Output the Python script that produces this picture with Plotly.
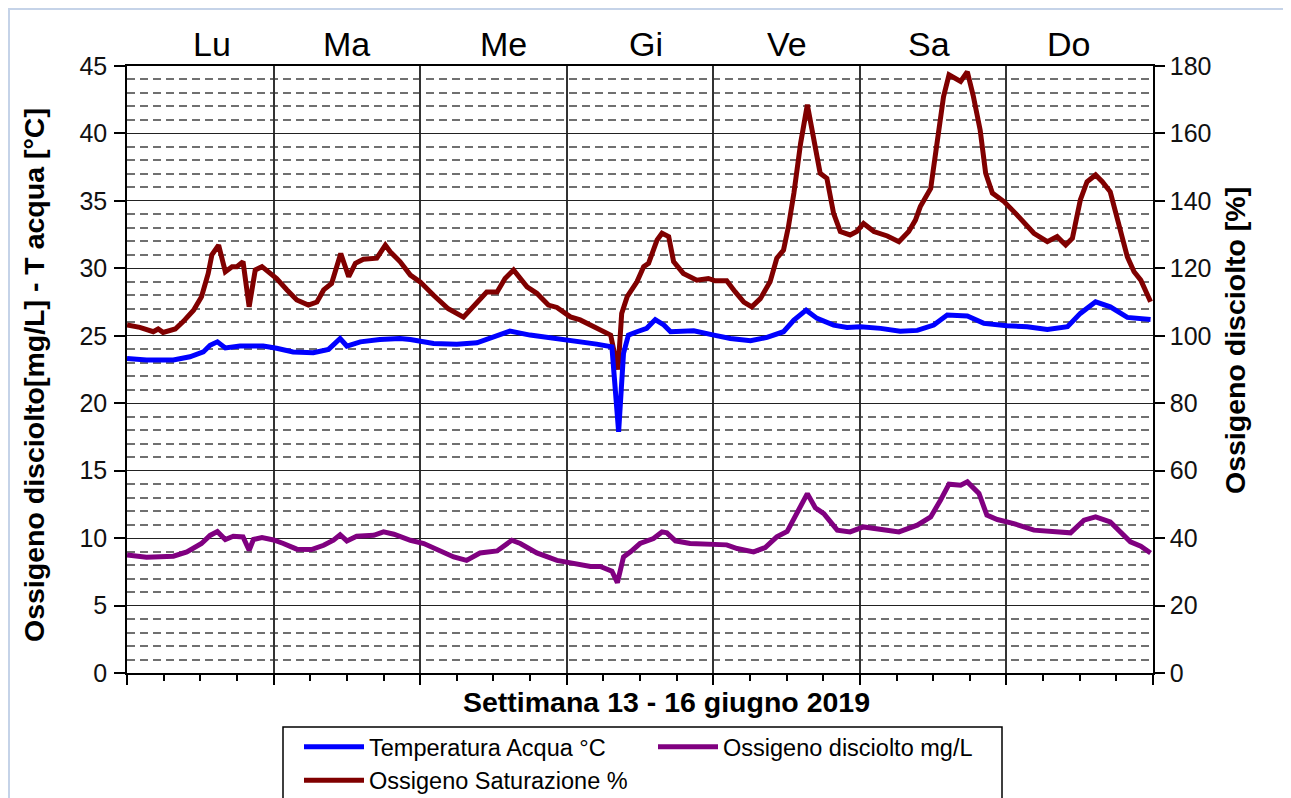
import plotly.graph_objects as go

# ---- data (hours since Monday 00:00, values) ----
day_labels = ["Lu", "Ma", "Me", "Gi", "Ve", "Sa", "Do"]
day_label_hours = [13.9, 36.0, 61.6, 84.9, 108.1, 131.4, 154.2]

temp_hours = [0, 3.2, 7.6, 10.3, 12.5, 13.6, 14.8, 16.1, 18.5, 22.3, 24.5, 27.2, 30.5, 33.0, 34.9, 36.0, 38.2, 41.4, 44.7, 46.4,
              50.2, 54.0, 57.3, 60.0, 62.7, 66.0, 70.4, 73.7, 76.9, 79.4, 80.5, 81.3, 82.1, 83.5, 85.1, 86.5, 87.9, 89.0, 92.8, 96.1,
              98.8, 102.1, 104.8, 107.5, 109.2, 111.2, 113.0, 115.7, 117.9, 120.1, 123.4, 126.6, 129.4, 132.1, 134.3, 137.6, 140.3,
              144.1, 147.4, 150.7, 154.0, 156.1, 158.6, 161.0, 163.8, 167.6]
temp_values = [23.32, 23.2, 23.2, 23.44, 23.8, 24.3, 24.55, 24.1, 24.24, 24.24, 24.07, 23.8, 23.74, 23.99, 24.8, 24.24, 24.55, 24.73, 24.8, 24.73,
               24.43, 24.38, 24.48, 24.88, 25.35, 25.05, 24.8, 24.55, 24.38, 24.18, 17.88, 23.7, 25.05, 25.3, 25.55, 26.2, 25.8, 25.3, 25.37, 25.05,
               24.8, 24.63, 24.88, 25.3, 26.16, 26.9, 26.29, 25.79, 25.62, 25.67, 25.55, 25.33, 25.4, 25.79, 26.54, 26.46, 25.92,
               25.74, 25.67, 25.47, 25.67, 26.66, 27.52, 27.15, 26.36, 26.21]

do_hours = [0, 3.2, 7.6, 9.8, 12.2, 13.6, 14.8, 16.1, 17.4, 19.0, 20.0, 20.7, 22.1, 24.0, 25.6, 27.8, 30.2, 32.2, 33.8, 34.9,
            36.0, 37.6, 40.4, 42.0, 43.7, 46.4, 48.6, 51.3, 53.5, 55.6, 57.8, 60.6, 63.0, 64.4, 67.1, 70.4, 73.7, 75.9, 77.5, 79.4,
            80.3, 81.3, 82.5, 84.0, 86.2, 87.6, 88.4, 89.8, 92.2, 95.0, 98.2, 99.9, 102.6, 104.5, 106.4, 108.1, 109.7, 111.4, 112.7, 114.1,
            116.3, 118.4, 120.6, 123.4, 126.4, 129.4, 131.6, 133.2, 134.6, 136.5, 137.6, 139.5, 140.8, 142.5, 145.2, 148.5, 151.8, 154.5,
            156.7, 158.6, 161.0, 162.7, 164.3, 166.0, 167.6]
do_values = [8.75, 8.58, 8.66, 8.98, 9.6, 10.2, 10.48, 9.9, 10.14, 10.09, 9.1, 9.9, 10.04, 9.86, 9.6, 9.18, 9.15, 9.47, 9.84, 10.25,
             9.79, 10.14, 10.21, 10.46, 10.29, 9.84, 9.6, 9.0, 8.6, 8.35, 8.9, 9.05, 9.84, 9.6, 8.9, 8.35, 8.05, 7.9, 7.9, 7.55,
             6.7, 8.6, 9.0, 9.6, 9.97, 10.46, 10.39, 9.8, 9.6, 9.55, 9.5, 9.23, 8.98, 9.3, 10.09, 10.5, 11.94, 13.3, 12.25, 11.82,
             10.59, 10.46, 10.83, 10.64, 10.46, 10.96, 11.57, 12.81, 14.0, 13.92, 14.17, 13.31, 11.7, 11.38, 11.08, 10.59, 10.53, 10.39,
             11.33, 11.57, 11.2, 10.46, 9.72, 9.4, 8.9]

sat_hours = [0, 2.1, 4.3, 5.1, 5.9, 7.9, 9.2, 10.9, 12.2, 13.3, 13.9, 15.0, 16.1, 17.2, 18.0, 19.0, 20.0, 21.0, 22.1, 23.1,
             24.5, 26.2, 27.8, 29.7, 31.1, 32.2, 33.5, 35.0, 36.3, 37.4, 38.7, 40.9, 42.3, 43.1, 44.7, 46.4, 48.0, 50.2, 52.6, 55.1,
             57.0, 58.9, 60.6, 61.9, 63.3, 64.4, 65.5, 67.1, 69.0, 70.4, 72.6, 74.2, 75.9, 77.8, 79.2, 79.6, 80.4, 81.0, 81.9, 83.5,
             84.6, 85.4, 86.8, 87.6, 88.7, 89.5, 91.1, 93.3, 95.2, 96.3, 98.2, 99.6, 101.0, 102.3, 103.7, 105.3, 106.4, 107.5, 108.3, 109.2,
             110.3, 111.4, 112.4, 113.5, 114.6, 115.7, 116.8, 118.4, 119.5, 120.6, 122.3, 124.5, 126.4, 128.0, 129.1, 129.9, 131.6, 132.7, 133.7, 134.6,
             136.5, 137.6, 138.6, 139.7, 140.6, 141.7, 143.6, 145.5, 146.8, 148.5, 150.7, 152.3, 153.7, 154.8, 156.1, 157.2, 158.6, 159.7, 161.0, 162.4,
             163.8, 164.9, 166.0, 167.6]
sat_values = [103.2, 102.5, 101.2, 102, 101, 102, 104.2, 107.6, 111.6, 118.5, 124, 126.9, 119, 120.5, 120.5, 122, 108.6, 119.5, 120.5, 119,
              117, 113.6, 110.6, 109.1, 110, 113.6, 115.5, 124.4, 117.5, 121.5, 122.7, 123, 126.9, 124.9, 122, 118, 116, 112, 108, 105.5,
              109.1, 113, 113, 117, 119.5, 117, 114.5, 112.6, 109.1, 108.4, 105.6, 104.7, 103.2, 101.7, 100.2, 96.7, 90, 106.6, 111.6, 116,
              120.5, 121.5, 128.4, 130.4, 129.4, 122, 118.5, 116.5, 117, 116.3, 116.3, 113, 110, 108.6, 111, 116, 123, 125.4, 132.3, 142.3,
              157.1, 168.5, 159, 148.2, 146.7, 136.3, 130.9, 129.9, 130.9, 133.3, 130.9, 129.6, 127.9, 130.9, 134.3, 138.3, 143.7, 157.1, 170.9, 177.4,
              175.4, 178.3, 170.9, 161, 148.2, 142.3, 139.8, 136.3, 133.8, 130.4, 127.9, 129.4, 126.9, 128.9, 140.3, 145.7, 147.7, 145.7, 142.7, 133.3,
              123.4, 119, 116.5, 110.1]

FONT = "Arial, Liberation Sans, sans-serif"

fig = go.Figure()
# base axis (y) = right axis in %, overlay (y2) = left axis
fig.add_trace(go.Scatter(x=sat_hours, y=sat_values, mode="lines", name="Ossigeno Saturazione %",
                         line=dict(color="#800000", width=5), yaxis="y", legendrank=3))
fig.add_trace(go.Scatter(x=temp_hours, y=temp_values, mode="lines", name="Temperatura Acqua °C",
                         line=dict(color="#0000FF", width=5), yaxis="y2", legendrank=1))
fig.add_trace(go.Scatter(x=do_hours, y=do_values, mode="lines", name="Ossigeno disciolto mg/L",
                         line=dict(color="#800080", width=5), yaxis="y2", legendrank=2))

# page body has an 8px margin: figure pixel = screen pixel - 8
OFF = 8
W, H = 1291 - OFF, 798 - OFF
ml, mr, mt, mb = 119, 138, 58, 125
pw, ph = W - ml - mr, H - mt - mb

def px_x(p):
    return (p - OFF - ml) / pw

def px_y(p):
    return (H - mb - (p - OFF)) / ph

TITLE_SIZE = 28.5
annotations = []
for lab, hx in zip(day_labels, day_label_hours):
    annotations.append(dict(x=hx, y=px_y(44), xref="x", yref="paper", text=lab, showarrow=False,
                            font=dict(family=FONT, size=34, color="black"), xanchor="center", yanchor="middle"))
annotations.append(dict(x=px_x(666), y=px_y(702), xref="paper", yref="paper",
                        text="<b>Settimana 13 - 16 giugno 2019</b>", showarrow=False,
                        font=dict(family=FONT, size=TITLE_SIZE, color="black"), xanchor="center", yanchor="middle"))
annotations.append(dict(x=px_x(34), y=px_y(375), xref="paper", yref="paper", textangle=-90,
                        text="<b>Ossigeno disciolto[mg/L] - T acqua [°C]</b>", showarrow=False,
                        font=dict(family=FONT, size=TITLE_SIZE, color="black"), xanchor="center", yanchor="middle"))
annotations.append(dict(x=px_x(1235), y=px_y(341), xref="paper", yref="paper", textangle=-90,
                        text="<b>Ossigeno disciolto [%]</b>", showarrow=False,
                        font=dict(family=FONT, size=TITLE_SIZE, color="black"), xanchor="center", yanchor="middle"))

fig.update_layout(
    width=W, height=H,
    margin=dict(l=ml, r=mr, t=mt, b=mb, autoexpand=False),
    paper_bgcolor="white", plot_bgcolor="white",
    font=dict(family=FONT, color="black"),
    showlegend=True,
    legend=dict(orientation="h", x=px_x(299), y=px_y(725), xanchor="left", yanchor="top",
                borderwidth=0, bgcolor="rgba(0,0,0,0)",
                font=dict(family=FONT, size=23.5, color="black"),
                entrywidth=279, entrywidthmode="pixels", tracegroupgap=0, itemwidth=60),
    xaxis=dict(range=[0, 168], tick0=0, dtick=24, showticklabels=False,
               showgrid=True, gridcolor="#333333", gridwidth=1.5,
               ticks="outside", ticklen=10, tickwidth=1.5, tickcolor="black",
               minor=dict(dtick=6, ticks="outside", ticklen=6, tickwidth=1.5, tickcolor="black", showgrid=False),
               showline=True, linecolor="black", linewidth=1.5, mirror=True, zeroline=False, fixedrange=True,
               automargin=False),
    yaxis=dict(range=[0, 180], tick0=0, dtick=20, side="right",
               showgrid=True, gridcolor="#222222", gridwidth=1.2,
               minor=dict(dtick=4, showgrid=True, gridcolor="#707070", griddash="8px,5px", gridwidth=1.5),
               ticks="outside", ticklen=10, tickwidth=1.5, tickcolor="black",
               tickfont=dict(family=FONT, size=25, color="#111111"),
               showline=True, linecolor="black", linewidth=1.5, zeroline=False, automargin=False),
    yaxis2=dict(range=[0, 45], tick0=0, dtick=5, side="left", overlaying="y",
                showgrid=False, ticks="outside", ticklen=11, tickwidth=1.5, tickcolor="black",
                tickfont=dict(family=FONT, size=25, color="#111111"), ticklabelstandoff=2,
                showline=True, linecolor="black", linewidth=1.5, zeroline=False, automargin=False),
    annotations=annotations,
    shapes=[
        dict(type="rect", xref="paper", yref="paper", x0=px_x(9), x1=px_x(1289), y0=px_y(812), y1=px_y(9),
             line=dict(color="#c5d3e8", width=2), fillcolor="rgba(0,0,0,0)", layer="below"),
        dict(type="rect", xref="paper", yref="paper", x0=px_x(283), x1=px_x(1002), y0=px_y(805), y1=px_y(727),
             line=dict(color="black", width=1.5), fillcolor="white", layer="below"),
    ],
)

fig.write_html("out.html")
